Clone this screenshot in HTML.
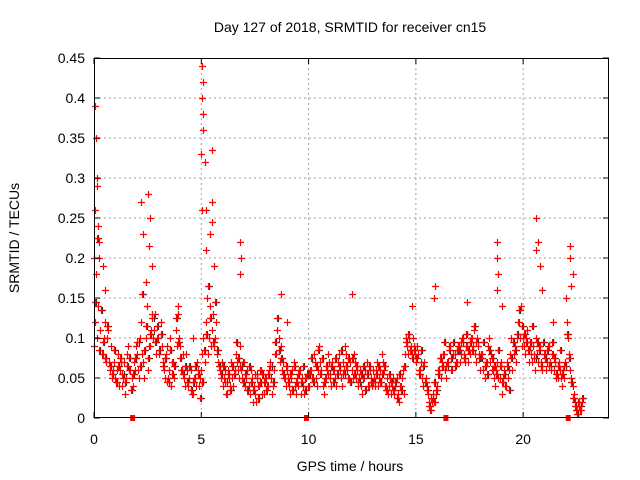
<!DOCTYPE html>
<html><head><meta charset="utf-8"><style>
body{margin:0;background:#fff;width:640px;height:480px;overflow:hidden}
svg{display:block;font-family:"Liberation Sans",sans-serif}
</style></head><body>
<svg id="chart" width="640" height="480" viewBox="0 0 640 480" xmlns="http://www.w3.org/2000/svg">
<rect width="640" height="480" fill="#fff"/>
<text x="350" y="32" font-size="14" text-anchor="middle">Day 127 of 2018, SRMTID for receiver cn15</text>
<text x="350" y="471" font-size="14" text-anchor="middle">GPS time / hours</text>
<text transform="translate(19,238) rotate(-90)" font-size="14" text-anchor="middle">SRMTID / TECUs</text>
<g id="grid"></g><g id="marks"></g><g id="axes"></g>
</svg>
<script>
const xTicks=[0,5,10,15,20];
const yTicks=[0,0.05,0.1,0.15,0.2,0.25,0.3,0.35,0.4,0.45];
const yTickLabels=["0","0.05","0.1","0.15","0.2","0.25","0.3","0.35","0.4","0.45"];
const seriesA=[0.09,0.18,0.14,0.11,0.08,0.12,0.1,0.07,0.09,0.06,
0.05,0.08,0.06,0.04,0.07,0.05,0.09,0.06,0.04,0.06,
0.08,0.05,0.12,0.07,0.1,0.06,0.09,0.13,0.11,0.08,
0.1,0.12,0.07,0.05,0.09,0.06,0.04,0.07,0.11,0.13,
0.09,0.06,0.05,0.08,0.04,0.06,0.03,0.05,0.07,0.04,
0.06,0.1,0.12,0.08,0.14,0.11,0.09,0.12,0.07,0.05,
0.04,0.06,0.03,0.05,0.07,0.04,0.08,0.06,0.09,0.05,
0.07,0.05,0.04,0.06,0.02,0.03,0.05,0.04,0.06,0.03,
0.05,0.04,0.07,0.03,0.06,0.08,0.1,0.09,0.07,0.05,
0.06,0.04,0.05,0.07,0.03,0.04,0.06,0.05,0.03,0.05,
0.04,0.06,0.05,0.07,0.04,0.09,0.06,0.03,0.05,0.08,
0.05,0.07,0.06,0.04,0.08,0.05,0.07,0.09,0.06,0.05,
0.06,0.08,0.05,0.04,0.06,0.03,0.05,0.07,0.04,0.05,
0.06,0.04,0.07,0.05,0.08,0.06,0.04,0.03,0.05,0.04,
0.03,0.05,0.02,0.04,0.06,0.08,0.09,0.1,0.08,0.09,
0.07,0.08,0.06,0.05,0.07,0.04,0.02,0.01,0.03,0.02,
0.04,0.06,0.07,0.08,0.05,0.07,0.09,0.06,0.08,0.07,
0.09,0.08,0.1,0.07,0.09,0.08,0.1,0.11,0.07,0.09,
0.06,0.08,0.05,0.07,0.1,0.08,0.06,0.04,0.07,0.05,
0.03,0.06,0.04,0.05,0.08,0.06,0.09,0.1,0.12,0.14,
0.1,0.08,0.11,0.09,0.07,0.08,0.1,0.07,0.09,0.06,
0.08,0.07,0.09,0.06,0.08,0.07,0.05,0.06,0.04,0.05,
0.15,0.1,0.06,0.04,0.02,0.01,0.02,0.01];
const seriesB=[0.12,0.1,0.2,0.08,0.1,0.07,0.11,0.06,0.05,0.07,
0.06,0.04,0.07,0.05,0.03,0.08,0.06,0.05,0.07,0.09,
0.06,0.1,0.08,0.05,0.14,0.09,0.11,0.1,0.13,0.1,
0.08,0.09,0.06,0.08,0.05,0.1,0.07,0.05,0.09,0.1,
0.06,0.08,0.04,0.06,0.05,0.03,0.05,0.04,0.06,0.05,
0.08,0.07,0.15,0.1,0.09,0.13,0.1,0.08,0.06,0.07,
0.05,0.03,0.06,0.04,0.05,0.06,0.07,0.05,0.06,0.07,
0.04,0.06,0.03,0.05,0.04,0.02,0.04,0.06,0.03,0.05,
0.04,0.06,0.05,0.04,0.08,0.11,0.07,0.06,0.05,0.04,
0.05,0.03,0.06,0.04,0.05,0.06,0.03,0.04,0.05,0.04,
0.06,0.05,0.08,0.05,0.06,0.07,0.04,0.05,0.06,0.07,
0.04,0.06,0.05,0.07,0.06,0.04,0.06,0.08,0.05,0.07,
0.05,0.07,0.06,0.05,0.04,0.05,0.06,0.04,0.06,0.04,
0.05,0.06,0.04,0.06,0.07,0.04,0.05,0.04,0.03,0.05,
0.04,0.03,0.04,0.05,0.03,0.1,0.08,0.09,0.1,0.08,
0.09,0.06,0.07,0.04,0.05,0.03,0.01,0.02,0.02,0.03,
0.06,0.05,0.08,0.06,0.07,0.09,0.06,0.08,0.07,0.09,
0.07,0.1,0.08,0.09,0.07,0.1,0.09,0.08,0.1,0.08,
0.08,0.06,0.07,0.09,0.07,0.06,0.05,0.06,0.05,0.07,
0.05,0.04,0.07,0.06,0.1,0.08,0.07,0.12,0.1,0.09,
0.09,0.1,0.07,0.08,0.09,0.06,0.08,0.09,0.07,0.08,
0.06,0.09,0.07,0.08,0.06,0.05,0.07,0.05,0.06,0.07,
0.12,0.08,0.05,0.03,0.01,0.02,0.01,0.02];
const seriesC=[0.145,0.225,0.085,0.135,0.095,0.075,0.115,0.065,0.055,0.085,
0.045,0.065,0.075,0.055,0.045,0.065,0.075,0.035,0.055,0.075,
0.095,0.065,0.155,0.085,0.115,0.075,0.105,0.125,0.095,0.115,
0.085,0.105,0.065,0.075,0.045,0.085,0.055,0.065,0.125,0.095,
0.075,0.055,0.065,0.045,0.065,0.035,0.045,0.065,0.055,0.025,
0.045,0.085,0.105,0.165,0.125,0.095,0.145,0.085,0.065,0.055,
0.065,0.045,0.055,0.035,0.065,0.055,0.095,0.075,0.065,0.045,
0.055,0.035,0.065,0.045,0.035,0.055,0.025,0.045,0.055,0.045,
0.035,0.055,0.065,0.045,0.095,0.125,0.085,0.075,0.055,0.065,
0.045,0.055,0.035,0.065,0.045,0.055,0.045,0.065,0.035,0.055,
0.055,0.075,0.045,0.065,0.085,0.055,0.075,0.045,0.065,0.055,
0.065,0.045,0.075,0.055,0.065,0.085,0.055,0.065,0.075,0.045,
0.075,0.055,0.065,0.045,0.055,0.065,0.035,0.055,0.065,0.045,
0.045,0.055,0.065,0.045,0.055,0.065,0.035,0.055,0.045,0.035,
0.045,0.025,0.055,0.035,0.065,0.095,0.105,0.085,0.075,0.085,
0.075,0.055,0.085,0.065,0.045,0.035,0.015,0.025,0.045,0.035,
0.055,0.075,0.065,0.095,0.065,0.085,0.075,0.095,0.065,0.085,
0.085,0.095,0.075,0.105,0.085,0.095,0.085,0.115,0.095,0.075,
0.075,0.095,0.065,0.055,0.085,0.075,0.065,0.055,0.085,0.065,
0.045,0.055,0.065,0.035,0.075,0.095,0.085,0.105,0.135,0.115,
0.105,0.095,0.085,0.095,0.115,0.075,0.095,0.085,0.065,0.095,
0.075,0.085,0.065,0.095,0.075,0.055,0.065,0.085,0.055,0.065,
0.105,0.075,0.045,0.025,0.015,0.005,0.015,0.025];
const spikeTimes=[0.05,0.1,0.12,0.15,0.03,0.2,0.25,0.02,2.2,2.5,2.3,2.6,2.55,2.7,2.4,5.05,5.1,5.05,5.1,5.08,5.0,5.15,5.5,5.05,5.2,5.5,5.5,5.4,5.2,5.6,6.8,6.85,6.8,8.7,12,18.8,18.8,18.85,18.8,20.6,20.7,20.6,20.8,20.9,22.2,22.2,22.3,22.25,15.9,15.85,17.4,14.8,19.0,21.4,9.0,0.5,0.4,3.9,4.6];
const spikeValues=[0.39,0.35,0.3,0.29,0.26,0.24,0.22,0.2,0.27,0.28,0.23,0.25,0.215,0.19,0.17,0.44,0.42,0.4,0.38,0.36,0.33,0.32,0.335,0.26,0.26,0.27,0.245,0.23,0.21,0.19,0.22,0.2,0.18,0.155,0.155,0.22,0.2,0.18,0.16,0.25,0.22,0.21,0.19,0.16,0.215,0.2,0.18,0.165,0.165,0.15,0.145,0.14,0.14,0.12,0.12,0.16,0.19,0.14,0.1];
const gapTimes=[1.8,9.9,16.4,22.1];

const L=94,R=609,T=58,B=418,XMAX=24,YMAX=0.45;
const xs=v=>L+v/XMAX*(R-L), ys=v=>B-v/YMAX*(B-T);
const NS="http://www.w3.org/2000/svg";
function mk(tag,attrs,parent){const e=document.createElementNS(NS,tag);for(const k in attrs)e.setAttribute(k,attrs[k]);parent.appendChild(e);return e;}
const grid=document.getElementById('grid'),marks=document.getElementById('marks'),axes=document.getElementById('axes');
yTicks.forEach((t,i)=>{const y=ys(t);
 if(i>0&&i<yTicks.length-1){const g=mk('line',{x1:L,x2:R,y1:y,y2:y,stroke:'#a0a0a0','stroke-dasharray':'2,3'},grid);
 
 }
 mk('line',{x1:L,x2:L+6,y1:y,y2:y,stroke:'#000'},axes);
 mk('line',{x1:R-6,x2:R,y1:y,y2:y,stroke:'#000'},axes);
 const tx=mk('text',{x:L-9,y:y+5,'font-size':14,'text-anchor':'end'},axes);tx.textContent=yTickLabels[i];
 
 
});
xTicks.forEach(t=>{const x=xs(t);
 if(t>0){const g=mk('line',{x1:x,x2:x,y1:T,y2:B,stroke:'#a0a0a0','stroke-dasharray':'2,3'},grid);
 
 }
 mk('line',{x1:x,x2:x,y1:B,y2:B-6,stroke:'#000'},axes);
 mk('line',{x1:x,x2:x,y1:T,y2:T+6,stroke:'#000'},axes);
 const tx=mk('text',{x:x,y:B+26,'font-size':14,'text-anchor':'middle'},axes);tx.textContent=String(t);
 
 
});
const frame=mk('rect',{x:L+0.5,y:T+0.5,width:R-L-1,height:B-T-1,fill:'none',stroke:'#000'},axes);


function plus(t,v,col){const x=Math.round(xs(t))+0.5,y=Math.round(ys(v))+0.5;
 const p=mk('path',{d:`M${x-3.5} ${y}H${x+3.5}M${x} ${y-3.5}V${y+3.5}`,stroke:col,'stroke-width':1.2,fill:'none'},marks);
 
 }
seriesC.forEach((v,i)=>plus(i*0.1+0.075,v,'#303030'));
seriesA.forEach((v,i)=>plus(i*0.1,v,'#ff0000'));
seriesB.forEach((v,i)=>plus(i*0.1+0.05,v,'#ff0000'));
seriesC.forEach((v,i)=>plus(i*0.1+0.025,v,'#ff0000'));
spikeTimes.forEach((t,i)=>plus(t,spikeValues[i],'#ff0000'));
gapTimes.forEach(t=>{const r=mk('rect',{x:xs(t)-2.5,y:B-3,width:5,height:6,fill:'#ff0000'},marks);
 
 });
</script>
</body></html>
